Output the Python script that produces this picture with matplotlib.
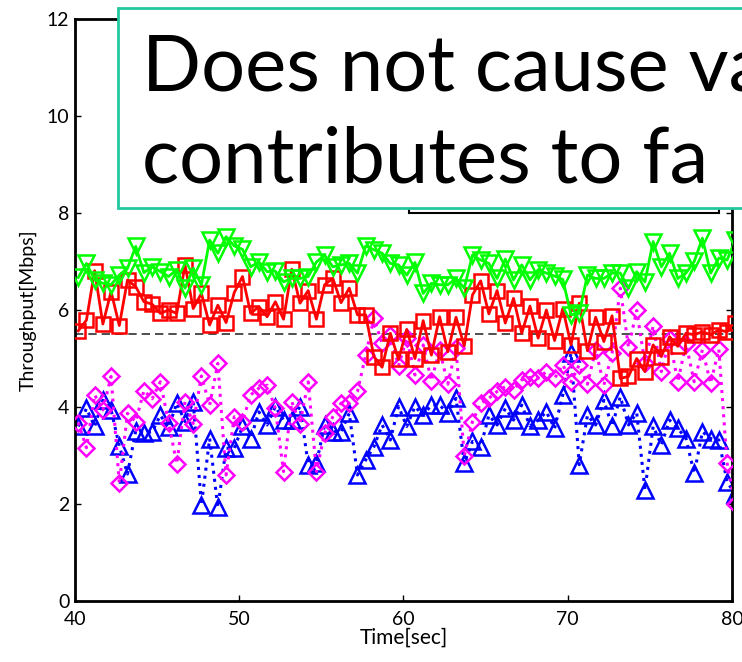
import numpy as np
import matplotlib
matplotlib.use("Agg")
import matplotlib.pyplot as plt
from matplotlib.patches import Rectangle

plt.rcParams['font.family'] = ['Lato', 'DejaVu Sans']

# sample times (one sample every 0.5 s)
t_start = 40.2
t_step = 0.5

green = [6.67, 6.96, 6.62, 6.55, 6.52, 6.72, 6.86, 7.31, 6.77, 6.89,
         6.79, 6.69, 6.83, 6.45, 6.86, 6.52, 7.44, 7.17, 7.51, 7.32,
         7.25, 6.89, 6.99, 6.79, 6.80, 6.58, 6.65, 6.65, 6.69, 6.99,
         7.13, 6.89, 6.93, 6.96, 6.76, 7.32, 7.24, 7.17, 6.96, 6.93,
         6.72, 6.98, 6.34, 6.55, 6.52, 6.52, 6.65, 6.45, 7.13, 7.03,
         6.96, 6.65, 7.05, 6.62, 6.93, 6.62, 6.83, 6.76, 6.70, 6.63,
         5.90, 5.93, 6.72, 6.65, 6.65, 6.76, 6.76, 6.45, 6.79, 6.58,
         7.41, 6.89, 7.17, 6.65, 6.76, 7.00, 7.48, 6.76, 7.07, 7.03,
         7.44]

red = [5.57, 5.79, 6.81, 5.71, 6.38, 5.68, 6.62, 6.48, 6.17, 6.12,
       5.93, 6.00, 5.93, 6.93, 6.03, 6.34, 5.69, 6.10, 5.74, 6.36,
       6.69, 5.93, 6.07, 5.86, 6.17, 5.81, 6.84, 6.14, 6.40, 5.81,
       6.52, 6.65, 6.15, 6.45, 5.90, 5.90, 5.04, 4.82, 5.52, 4.98,
       5.60, 5.00, 5.78, 5.07, 5.86, 5.14, 5.85, 5.26, 6.31, 6.60,
       5.92, 6.40, 5.73, 6.24, 5.52, 6.08, 5.42, 6.00, 5.37, 6.03,
       5.28, 6.14, 5.16, 5.85, 5.35, 5.88, 4.59, 4.63, 5.00, 4.73,
       5.28, 5.04, 5.45, 5.25, 5.52, 5.49, 5.55, 5.49, 5.59, 5.55,
       5.73]

magenta = [3.68, 3.16, 4.25, 3.94, 4.63, 2.43, 3.87, 3.70, 4.34, 4.17,
           4.52, 3.68, 2.83, 4.11, 3.66, 4.64, 4.04, 4.90, 2.60, 3.80,
           3.70, 4.25, 4.39, 4.45, 3.97, 2.67, 4.11, 3.66, 4.52, 2.67,
           3.46, 3.80, 4.08, 4.08, 4.32, 5.07, 5.83, 5.31, 5.49, 4.85,
           5.42, 4.66, 5.28, 4.54, 5.18, 4.47, 5.21, 2.99, 3.70, 4.08,
           4.18, 4.32, 4.42, 4.35, 4.56, 4.61, 4.59, 4.73, 4.59, 4.87,
           4.52, 4.87, 4.47, 5.18, 4.45, 5.11, 6.45, 5.23, 5.99, 4.90,
           5.67, 4.73, 5.40, 4.52, 5.30, 4.52, 5.18, 4.49, 5.19, 2.85,
           2.00]

blue = [3.60, 3.97, 3.60, 4.14, 3.94, 3.20, 2.62, 3.51, 3.46, 3.49,
        3.83, 3.58, 4.08, 3.70, 4.11, 1.98, 3.35, 1.93, 3.15, 3.15,
        3.60, 3.35, 3.90, 3.63, 4.01, 3.73, 3.73, 4.01, 2.81, 2.84,
        3.63, 3.49, 3.49, 3.87, 2.60, 2.91, 3.18, 3.63, 3.32, 4.01,
        3.60, 4.01, 3.83, 4.04, 4.04, 3.87, 4.18, 2.84, 3.29, 3.18,
        3.83, 3.63, 3.97, 3.73, 4.04, 3.61, 3.73, 3.90, 3.56, 4.25,
        5.11, 2.81, 3.83, 3.63, 4.14, 3.60, 4.21, 3.63, 3.88, 2.29,
        3.60, 3.22, 3.73, 3.56, 3.35, 2.63, 3.49, 3.35, 3.32, 2.46,
        2.20]

reference_level = 5.5

t = t_start + t_step * np.arange(len(green))

fig = plt.figure(figsize=(7.42, 6.62), dpi=100)
ax = fig.add_axes([0.101, 0.092, 0.8855, 0.8795])

ax.axhline(reference_level, color='#303030', lw=1.2, ls=(0, (5, 3)), zorder=1)

ax.plot(t, blue, color='#0000ff', ls=':', lw=2.2, marker='^', ms=12,
        mfc='none', mec='#0000ff', mew=1.8, zorder=2)
ax.plot(t, magenta, color='#ff00ff', ls=':', lw=2.2, marker='D', ms=8.5,
        mfc='none', mec='#ff00ff', mew=1.8, zorder=3)
ax.plot(t, red, color='#ff0000', ls='-', lw=2, marker='s', ms=9.5,
        mfc='none', mec='#ff0000', mew=1.8, zorder=4)
ax.plot(t, green, color='#00ff00', ls='-', lw=2, marker='v', ms=12,
        mfc='none', mec='#00ff00', mew=1.8, zorder=5)

ax.set_xlim(40, 80)
ax.set_ylim(0, 12)
ax.set_xticks([40, 50, 60, 70, 80])
ax.set_yticks([0, 2, 4, 6, 8, 10, 12])
ax.tick_params(direction='in', length=4, width=1, labelsize=14,
               top=True, right=True)
ax.tick_params(axis='x', pad=7)
ax.tick_params(axis='y', pad=4)
for s in ax.spines.values():
    s.set_linewidth(2)
ax.set_xlabel('Time[sec]', fontsize=15, labelpad=0)
ax.set_ylabel('Throughput[Mbps]', fontsize=14, labelpad=7)

# legend frame hidden behind the callout
ax.add_patch(Rectangle((0.508, 0.667), 0.472, 0.33, transform=ax.transAxes,
                       fill=True, fc='white', ec='black', lw=1.5, zorder=6))

# callout box
fig.patches.append(Rectangle((0.159, 0.686), 0.9, 0.302, transform=fig.transFigure,
                             fc='white', ec='#22c8a0', lw=2, zorder=10))
fig.text(0.191, 0.864, 'Does not cause va', fontsize=56, va='baseline',
         ha='left', zorder=11)
fig.text(0.191, 0.725, 'contributes to fa', fontsize=56, va='baseline',
         ha='left', zorder=11)

fig.savefig('out.png', dpi=100)
